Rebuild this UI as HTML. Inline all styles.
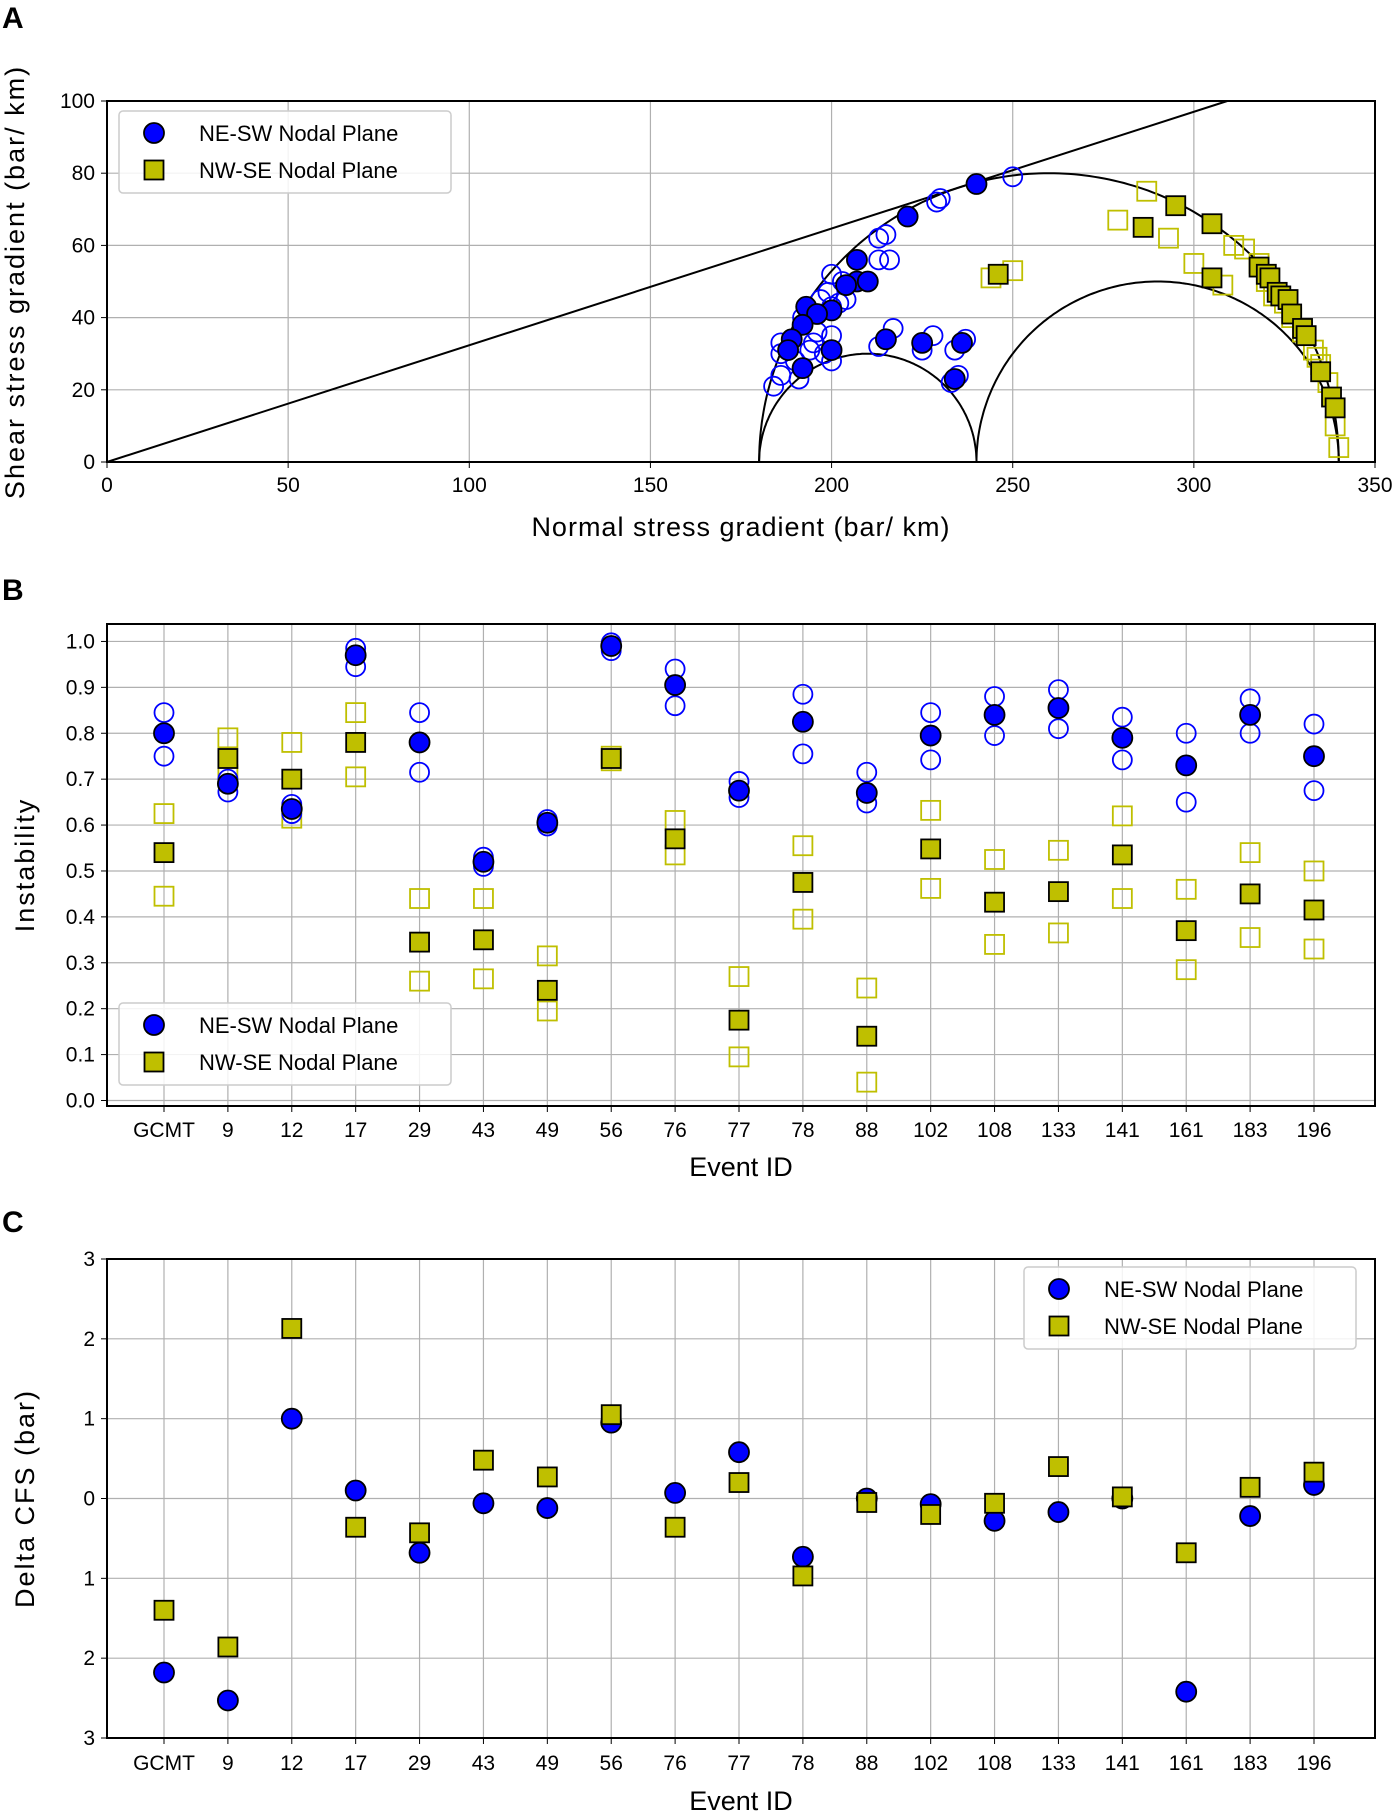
<!DOCTYPE html>
<html><head><meta charset="utf-8"><style>
html,body{margin:0;padding:0;background:#fff}
svg{display:block;font-family:"Liberation Sans",sans-serif}
</style></head><body>
<svg id="fig" width="1399" height="1820" viewBox="0 0 1399 1820" xmlns="http://www.w3.org/2000/svg">
<text x="2" y="28" font-size="30" font-weight="bold">A</text>
<text x="2" y="600" font-size="30" font-weight="bold">B</text>
<text x="2" y="1232" font-size="30" font-weight="bold">C</text>
<g id="pa"></g>
<g id="pb"></g>
<g id="pc"></g>
</svg>
<script>
// Panel A data
const aFilledCircX=[240,221,207,207,204,210,200,193,196,192,189,188,192,200,215,225,236,234];
const aFilledCircY=[77,68,56,50,49,50,42,43,41,38,34,31,26,31,34,33,33,23];
const aOpenCircX=[250,230,229,213,215,213,216,200,199,197,203,204,202,200,192,196,195,200,186,186,190,184,186,191,200,198,194,217,213,228,225,237,234,235,233];
const aOpenCircY=[79,73,72,62,63,56,56,52,47,45,50,45,44,43,40,36,33,35,33,30,28,21,24,23,28,30,31,37,32,35,31,34,31,24,22];
const aFilledSqX=[246,295,305,286,305,318,320,321,323,324,326,327,330,331,335,338,339];
const aFilledSqY=[52,71,66,65,51,54,52,51,47,46,45,41,37,35,25,18,15];
const aOpenSqX=[250,244,287,279,293,300,308,311,314,318,320,322,325,327,330,333,334,335,337,339,340];
const aOpenSqY=[53,51,75,67,62,55,49,60,59,55,50,46,44,40,36,31,29,27,22,10,4];
const aXTicks=[0,50,100,150,200,250,300,350];
const aYTicks=[0,20,40,60,80,100];
// Panel B data
const events=["GCMT","9","12","17","29","43","49","56","76","77","78","88","102","108","133","141","161","183","196"];
const bCirc=[0.80,0.69,0.635,0.97,0.78,0.52,0.605,0.99,0.905,0.675,0.825,0.67,0.795,0.84,0.855,0.79,0.73,0.84,0.75];
const bCircHi=[0.845,0.70,0.645,0.985,0.845,0.53,0.612,0.997,0.94,0.695,0.885,0.715,0.845,0.88,0.895,0.835,0.80,0.875,0.82];
const bCircLo=[0.75,0.672,0.625,0.945,0.715,0.51,0.598,0.98,0.86,0.66,0.755,0.648,0.742,0.795,0.81,0.742,0.65,0.80,0.675];
const bSq=[0.54,0.745,0.70,0.78,0.345,0.35,0.24,0.745,0.57,0.175,0.475,0.14,0.548,0.432,0.455,0.535,0.37,0.45,0.415];
const bSqHi=[0.625,0.79,0.78,0.845,0.44,0.44,0.315,0.75,0.61,0.27,0.555,0.245,0.632,0.525,0.545,0.62,0.46,0.54,0.50];
const bSqLo=[0.445,0.71,0.615,0.705,0.26,0.265,0.195,0.74,0.535,0.095,0.395,0.04,0.462,0.34,0.365,0.44,0.285,0.355,0.33];
const bYTicks=[0,0.1,0.2,0.3,0.4,0.5,0.6,0.7,0.8,0.9,1.0];
// Panel C data
const cCirc=[-2.18,-2.53,1.0,0.1,-0.68,-0.06,-0.12,0.95,0.07,0.58,-0.73,0.0,-0.07,-0.28,-0.17,0.0,-2.42,-0.22,0.17];
const cSq=[-1.4,-1.86,2.13,-0.36,-0.43,0.48,0.27,1.05,-0.36,0.2,-0.97,-0.05,-0.2,-0.06,0.4,0.02,-0.68,0.14,0.33];
const cYTicks=[-3,-2,-1,0,1,2,3];

const NS="http://www.w3.org/2000/svg";
const BLUE="#0000ff", OLIVE="#bfbf00";
function mk(parent,tag,attrs){const e=document.createElementNS(NS,tag);for(const k in attrs)e.setAttribute(k,attrs[k]);parent.appendChild(e);return e;}
function txt(parent,x,y,s,size,anchor){const t=mk(parent,'text',{x:x,y:y,'font-size':size,'text-anchor':anchor||'middle'});t.textContent=s;return t;}
function circ(g,x,y,filled){const c=mk(g,'circle',{cx:x,cy:y,r:filled?10:9.5,fill:filled?BLUE:'none',stroke:filled?'#000':BLUE,'stroke-width':filled?1.8:1.8});return c;}
function sq(g,x,y,filled){const s=mk(g,'rect',{x:x-9.5,y:y-9.5,width:19,height:19,fill:filled?OLIVE:'none',stroke:filled?'#000':OLIVE,'stroke-width':filled?1.8:1.8});return s;}
function legend(g,x,y){
  const r=mk(g,'rect',{x:x,y:y,width:332,height:82,rx:4,fill:'#fff','fill-opacity':0.85,stroke:'#ccc','stroke-width':1.5});
  
  const c=circ(g,x+35,y+22,true);
  const t1=txt(g,x+80,y+30,'NE-SW Nodal Plane',22,'start');
  const s=sq(g,x+35,y+59,true);
  const t2=txt(g,x+80,y+67,'NW-SE Nodal Plane',22,'start');
}

// ---- Panel A ----
(function(){
const g=document.getElementById('pa');
const L=107,R=1375,T=101,B=462;
const sx=v=>L+(R-L)*v/350, sy=v=>B-(B-T)*v/100;
aXTicks.forEach(v=>{const l=mk(g,'line',{x1:sx(v),x2:sx(v),y1:T,y2:B,stroke:'#b0b0b0','stroke-width':1.2});
  mk(g,'line',{x1:sx(v),x2:sx(v),y1:B,y2:B+6,stroke:'#000'});
  const t=txt(g,sx(v),B+30,String(v),21);});
aYTicks.forEach(v=>{const l=mk(g,'line',{x1:L,x2:R,y1:sy(v),y2:sy(v),stroke:'#b0b0b0','stroke-width':1.2});
  mk(g,'line',{x1:L-6,x2:L,y1:sy(v),y2:sy(v),stroke:'#000'});
  const t=txt(g,L-12,sy(v)+7,String(v),21,'end');});
// failure line y = 0.3234 x
const mu=80/Math.sqrt(260*260-80*80);
const xe=100/mu;
const fl=mk(g,'line',{x1:sx(0),y1:sy(0),x2:sx(xe),y2:sy(100),stroke:'#000','stroke-width':2});

[[260,80,'mohr-circle-large'],[210,30,'mohr-circle-small-left'],[290,50,'mohr-circle-small-right']].forEach(([c,r,n])=>{
  let d='';for(let i=0;i<=180;i++){const a=Math.PI*i/180;const x=sx(c+r*Math.cos(a)),y=sy(r*Math.sin(a));d+=(i?'L':'M')+x.toFixed(1)+','+y.toFixed(1);}
  const p=mk(g,'path',{d:d,fill:'none',stroke:'#000','stroke-width':2});});
aOpenCircX.forEach((v,i)=>{const c=circ(g,sx(v),sy(aOpenCircY[i]),false);});
aOpenSqX.forEach((v,i)=>{const c=sq(g,sx(v),sy(aOpenSqY[i]),false);});
aFilledCircX.forEach((v,i)=>{const c=circ(g,sx(v),sy(aFilledCircY[i]),true);});
aFilledSqX.forEach((v,i)=>{const c=sq(g,sx(v),sy(aFilledSqY[i]),true);});
const fr=mk(g,'rect',{x:L,y:T,width:R-L,height:B-T,fill:'none',stroke:'#000','stroke-width':2});
const xl=txt(g,(L+R)/2,536,'Normal stress gradient (bar/ km)',27);xl.setAttribute('letter-spacing','1');
const yl=txt(g,0,0,'Shear stress gradient (bar/ km)',27);yl.setAttribute('transform','translate(24,282) rotate(-90)');yl.setAttribute('letter-spacing','2');
legend(g,119,111);
})();

function catPanel(gid,T,B,yMin,yMax,yTicks,fmt,tickY,xlY,ylabel,ylx){
  const g=document.getElementById(gid);
  const L=107,R=1375,x0=164,x1=1314;
  const sx=i=>x0+(x1-x0)*i/(events.length-1);
  return {g,L,R,T,B,sx,
    sy:v=>B-(B-T)*(v-yMin)/(yMax-yMin),
    draw(){const sy=this.sy;
      events.forEach((e,i)=>{const l=mk(g,'line',{x1:sx(i),x2:sx(i),y1:T,y2:B,stroke:'#b0b0b0','stroke-width':1.2});
        mk(g,'line',{x1:sx(i),x2:sx(i),y1:B,y2:B+6,stroke:'#000'});
        const t=txt(g,sx(i),tickY,e,21);});
      yTicks.forEach(v=>{const l=mk(g,'line',{x1:L,x2:R,y1:sy(v),y2:sy(v),stroke:'#b0b0b0','stroke-width':1.2});
        mk(g,'line',{x1:L-6,x2:L,y1:sy(v),y2:sy(v),stroke:'#000'});
        const t=txt(g,L-12,sy(v)+7,fmt(v),21,'end');});
      const xl=txt(g,(L+R)/2,xlY,'Event ID',27);
      const yl=txt(g,0,0,ylabel,27);yl.setAttribute('transform','translate('+ylx+','+((T+B)/2)+') rotate(-90)');yl.setAttribute('letter-spacing','2');
    },
    frame(){const fr=mk(g,'rect',{x:L,y:T,width:R-L,height:B-T,fill:'none',stroke:'#000','stroke-width':2});}
  };
}

// ---- Panel B ----
(function(){
const P=catPanel('pb',624,1106,-0.012,1.038,bYTicks,v=>v.toFixed(1),1137,1176,'Instability',34);
P.draw();const g=P.g,sx=P.sx,sy=P.sy;
events.forEach((e,i)=>{
  let c;
  c=sq(g,sx(i),sy(bSqHi[i]),false);
  c=sq(g,sx(i),sy(bSqLo[i]),false);
  c=circ(g,sx(i),sy(bCircHi[i]),false);
  c=circ(g,sx(i),sy(bCircLo[i]),false);
  c=sq(g,sx(i),sy(bSq[i]),true);
  c=circ(g,sx(i),sy(bCirc[i]),true);
});
P.frame();legend(g,119,1003);
})();

// ---- Panel C ----
(function(){
const P=catPanel('pc',1259,1738,-3,3,cYTicks,v=>String(Math.abs(v)),1770,1810,'Delta CFS (bar)',34);
P.draw();const g=P.g,sx=P.sx,sy=P.sy;
events.forEach((e,i)=>{
  let c=circ(g,sx(i),sy(cCirc[i]),true);
  c=sq(g,sx(i),sy(cSq[i]),true);
});
P.frame();legend(g,1024,1267);
})();
</script>
</body></html>
